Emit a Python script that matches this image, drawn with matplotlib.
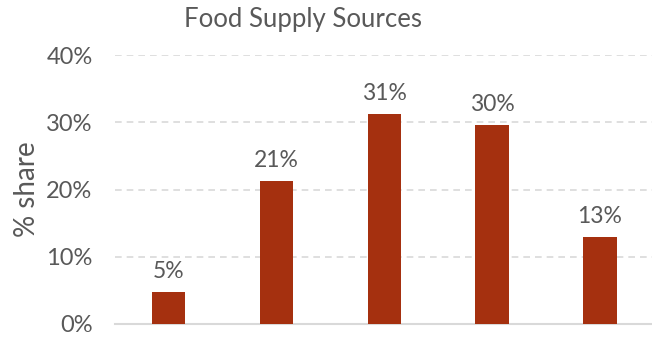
import matplotlib.pyplot as plt
import numpy as np
from matplotlib.ticker import FuncFormatter

# Share of food supply by source (%)
shares = [4.8, 21.3, 31.2, 29.6, 12.9]
yticks = [0, 10, 20, 30, 40]

grey = '#595959'
bar_color = '#a5300f'

plt.rcParams['font.family'] = ['Lato', 'DejaVu Sans']

fig = plt.figure(figsize=(6.52, 3.6), dpi=100)
ax = fig.add_axes([0.176, 0.1, 0.827, 0.747])

x = np.arange(len(shares))
ax.bar(x, shares, width=0.31, color=bar_color, zorder=3)

for xi, v in zip(x, shares):
    ax.text(xi, v + 1.5, f'{v:.0f}%', ha='center', va='bottom',
            fontsize=16.5, color=grey)

ax.set_xlim(-0.5, len(shares) - 0.5)
ax.set_ylim(0, 40)
ax.set_yticks(yticks)
ax.yaxis.set_major_formatter(FuncFormatter(lambda v, p: f'{v:.0f}%'))
ax.set_xticks([])

ax.grid(axis='y', color='#d9d9d9', linestyle=(0, (4, 3)), linewidth=1.2, zorder=0)
for side in ['top', 'right', 'left']:
    ax.spines[side].set_visible(False)
ax.spines['bottom'].set_color('#d9d9d9')
ax.spines['bottom'].set_linewidth(1.5)

ax.tick_params(axis='y', length=0, pad=16, labelsize=17, labelcolor=grey)
ax.set_ylabel('% share', fontsize=20, color=grey)
ax.yaxis.set_label_coords(-0.138, 0.5)
fig.text(0.465, 0.945, 'Food Supply Sources', ha='center', va='center',
         fontsize=18.5, color=grey)

fig.savefig('out.png', dpi=100)
